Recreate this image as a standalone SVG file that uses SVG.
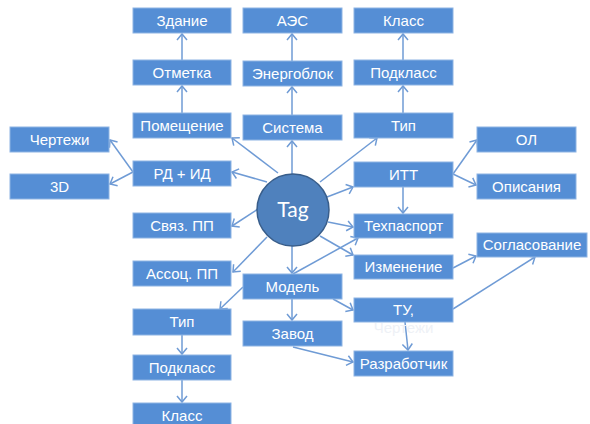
<svg xmlns="http://www.w3.org/2000/svg" width="590" height="424" viewBox="0 0 590 424">
<defs>
<marker id="arr" markerUnits="userSpaceOnUse" markerWidth="14" markerHeight="14" viewBox="-8 -7 10 14" refX="0" refY="0" orient="auto">
<path d="M-6,-5 L0,0 L-6,5" fill="none" stroke="#6F9BD5" stroke-width="1.5"/>
</marker>
</defs>
<style>
.b rect{fill:#558ED5;stroke:#8EB4E3;stroke-width:1}
.b text{fill:#fff;font-family:"Liberation Sans",Arial,sans-serif;font-size:15px;text-anchor:middle}
#c line{stroke:#6F9BD5;stroke-width:1.5;marker-end:url(#arr)}
</style>
<rect width="590" height="424" fill="#fff"/>
<g id="c">
<line x1="182" y1="60" x2="182" y2="34"/>
<line x1="182" y1="113" x2="182" y2="86"/>
<line x1="292" y1="61" x2="292" y2="34"/>
<line x1="292" y1="115" x2="292" y2="87"/>
<line x1="403" y1="60" x2="403" y2="34"/>
<line x1="403" y1="113" x2="403" y2="86"/>
<line x1="278" y1="173" x2="232" y2="138"/>
<line x1="292" y1="174" x2="292" y2="141"/>
<line x1="320" y1="182" x2="377" y2="138"/>
<line x1="267" y1="182" x2="232" y2="172"/>
<line x1="133" y1="172" x2="110" y2="140"/>
<line x1="133" y1="172" x2="110" y2="184"/>
<line x1="258" y1="209" x2="232" y2="226"/>
<line x1="267" y1="237" x2="233" y2="272"/>
<line x1="292" y1="246" x2="292" y2="273"/>
<line x1="327" y1="197" x2="353" y2="187"/>
<line x1="453" y1="174" x2="477" y2="140"/>
<line x1="453" y1="174" x2="476" y2="185"/>
<line x1="403" y1="187" x2="403" y2="213"/>
<line x1="328" y1="222" x2="353" y2="227"/>
<line x1="320" y1="236" x2="353" y2="255"/>
<line x1="293" y1="274" x2="358" y2="238"/>
<line x1="243" y1="287" x2="220" y2="309"/>
<line x1="292" y1="299" x2="292" y2="320"/>
<line x1="333" y1="299" x2="353" y2="310"/>
<line x1="453" y1="268" x2="476" y2="256"/>
<line x1="453" y1="309" x2="535" y2="257"/>
<line x1="405" y1="322" x2="408" y2="350"/>
<line x1="293" y1="347" x2="353" y2="362"/>
<line x1="182" y1="335" x2="182" y2="354"/>
<line x1="182" y1="380" x2="182" y2="402"/>
</g>
<g id="n-chertezhi" class="b"><rect x="10" y="127" width="99" height="25"/><text x="59.5" y="144.5">Чертежи</text></g>
<g id="n-3d" class="b"><rect x="10" y="174" width="99" height="25"/><text x="59.5" y="191.5">3D</text></g>
<g id="n-zdanie" class="b"><rect x="133" y="8" width="98" height="25"/><text x="182" y="25.5">Здание</text></g>
<g id="n-otmetka" class="b"><rect x="133" y="60" width="98" height="25"/><text x="182" y="77.5">Отметка</text></g>
<g id="n-pomeshchenie" class="b"><rect x="133" y="113" width="98" height="25"/><text x="182" y="130.5">Помещение</text></g>
<g id="n-rd" class="b"><rect x="133" y="161" width="98" height="25"/><text x="182" y="178.5">РД + ИД</text></g>
<g id="n-svyaz" class="b"><rect x="133" y="213" width="98" height="25"/><text x="182" y="230.5">Связ. ПП</text></g>
<g id="n-assoc" class="b"><rect x="133" y="261" width="98" height="25"/><text x="182" y="278.5">Ассоц. ПП</text></g>
<g id="n-tip2" class="b"><rect x="133" y="309" width="98" height="26"/><text x="182" y="327">Тип</text></g>
<g id="n-podklass2" class="b"><rect x="133" y="355" width="98" height="25"/><text x="182" y="372.5">Подкласс</text></g>
<g id="n-klass2" class="b"><rect x="133" y="403" width="98" height="26"/><text x="182" y="421">Класс</text></g>
<g id="n-aes" class="b"><rect x="243" y="8" width="99" height="25"/><text x="292.5" y="25.5">АЭС</text></g>
<g id="n-energoblok" class="b"><rect x="243" y="61" width="99" height="25"/><text x="292.5" y="78.5">Энергоблок</text></g>
<g id="n-sistema" class="b"><rect x="243" y="115" width="99" height="25"/><text x="292.5" y="132.5">Система</text></g>
<g id="n-model" class="b"><rect x="243" y="274" width="99" height="25"/><text x="292.5" y="291.5">Модель</text></g>
<g id="n-zavod" class="b"><rect x="243" y="321" width="99" height="25"/><text x="292.5" y="338.5">Завод</text></g>
<g id="n-klass" class="b"><rect x="354" y="8" width="99" height="25"/><text x="403.5" y="25.5">Класс</text></g>
<g id="n-podklass" class="b"><rect x="354" y="60" width="99" height="25"/><text x="403.5" y="77.5">Подкласс</text></g>
<g id="n-tip" class="b"><rect x="354" y="113" width="99" height="25"/><text x="403.5" y="130.5">Тип</text></g>
<g id="n-itt" class="b"><rect x="354" y="162" width="99" height="25"/><text x="403.5" y="179.5">ИТТ</text></g>
<g id="n-tekhpasport" class="b"><rect x="354" y="214" width="99" height="24"/><text x="403.5" y="231">Техпаспорт</text></g>
<g id="n-izmenenie" class="b"><rect x="354" y="255" width="99" height="24"/><text x="403.5" y="272">Изменение</text></g>
<g id="n-tu" class="b"><rect x="354" y="298" width="99" height="24"/><text x="403.5" y="315">ТУ,</text><text x="403.5" y="333" style="fill:#eef1f6">Чертежи</text></g>
<g id="n-razrabotchik" class="b"><rect x="354" y="351" width="99" height="25"/><text x="403.5" y="368.5">Разработчик</text></g>
<g id="n-ol" class="b"><rect x="477" y="127" width="99" height="25"/><text x="526.5" y="144.5">ОЛ</text></g>
<g id="n-opisaniya" class="b"><rect x="477" y="174" width="99" height="25"/><text x="526.5" y="191.5">Описания</text></g>
<g id="n-soglasovanie" class="b"><rect x="477" y="233" width="110" height="24"/><text x="532" y="250">Согласование</text></g>
<g id="n-tag"><circle cx="293" cy="210" r="36" fill="#4F81BD" stroke="#385D8A" stroke-width="1.5"/><text x="293" y="217" fill="#fff" font-family="Lato,'Liberation Sans',sans-serif" font-size="21" text-anchor="middle">Tag</text></g>
</svg>
